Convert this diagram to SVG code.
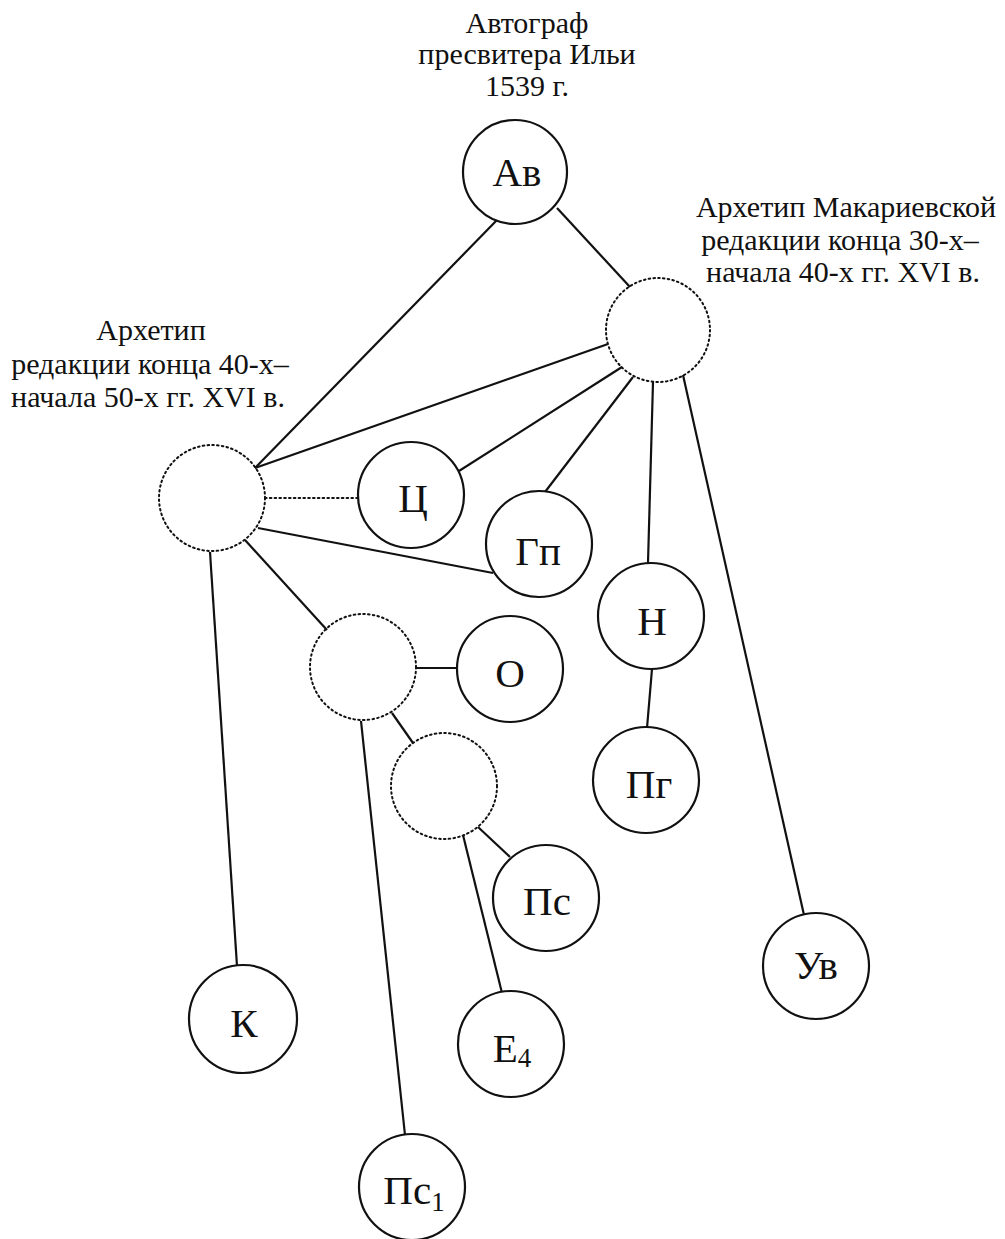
<svg xmlns="http://www.w3.org/2000/svg" width="1005" height="1239" viewBox="0 0 1005 1239">
<style>
.n{fill:#fff;stroke:#111;stroke-width:2.2}
.d{fill:none;stroke:#111;stroke-width:2;stroke-dasharray:1.6 3.2;stroke-linecap:round}
.e{stroke:#111;stroke-width:2.2;fill:none}
.ed{stroke:#111;stroke-width:2;stroke-dasharray:1.6 3.2;stroke-linecap:round}
.t{font-family:"Liberation Serif","Times New Roman",serif;font-size:41px;fill:#111;text-anchor:middle}
.l{font-family:"Liberation Serif","Times New Roman",serif;font-size:30px;fill:#111;text-anchor:middle}
.s{font-size:27px}
</style>
<rect width="1005" height="1239" fill="#fff"/>
<g id="connectors">
<line class="e" x1="557" y1="208" x2="630" y2="287"/>
<line class="e" x1="497" y1="220" x2="255" y2="468"/>
<line class="e" x1="608" y1="344" x2="255" y2="468"/>
<line class="e" x1="622" y1="367" x2="459" y2="471"/>
<line class="e" x1="633" y1="377" x2="545" y2="492"/>
<line class="e" x1="653" y1="382" x2="648" y2="563"/>
<line class="e" x1="683" y1="375" x2="804" y2="915"/>
<line class="ed" x1="265" y1="498" x2="358" y2="498"/>
<line class="e" x1="258" y1="528" x2="493" y2="573"/>
<line class="e" x1="245" y1="540" x2="327" y2="630"/>
<line class="e" x1="210" y1="552" x2="237" y2="966"/>
<line class="e" x1="415" y1="668" x2="457" y2="668"/>
<line class="e" x1="392" y1="713" x2="413" y2="743"/>
<line class="e" x1="361" y1="721" x2="405" y2="1135"/>
<line class="e" x1="478" y1="827" x2="510" y2="857"/>
<line class="e" x1="463" y1="835" x2="502" y2="993"/>
<line class="e" x1="652" y1="669" x2="647" y2="728"/>
</g>
<g id="label-top">
<text class="l" x="527" y="33">Автограф</text>
<text class="l" x="527" y="64">пресвитера Ильи</text>
<text class="l" x="527" y="96">1539 г.</text>
</g>
<g id="label-right">
<text class="l" x="846" y="217">Архетип Макариевской</text>
<text class="l" x="840" y="250">редакции конца 30-х–</text>
<text class="l" x="843" y="282">начала 40-х гг. XVI в.</text>
</g>
<g id="label-left">
<text class="l" x="151" y="340">Архетип</text>
<text class="l" x="150" y="374">редакции конца 40-х–</text>
<text class="l" x="148" y="407">начала 50-х гг. XVI в.</text>
</g>
<g id="node-Av"><circle class="n" cx="515" cy="172" r="52"/><text class="t" x="517" y="186">Ав</text></g>
<g id="node-arch-mak"><circle class="d" cx="658" cy="330" r="52"/></g>
<g id="node-arch-left"><circle class="d" cx="212" cy="498" r="53"/></g>
<g id="node-C"><circle class="n" cx="411" cy="495" r="53"/><text class="t" x="413" y="512">Ц</text></g>
<g id="node-Gp"><circle class="n" cx="539" cy="544" r="53"/><text class="t" x="538" y="565">Гп</text></g>
<g id="node-N"><circle class="n" cx="651" cy="616" r="53"/><text class="t" x="652" y="635">Н</text></g>
<g id="node-mid"><circle class="d" cx="363" cy="667" r="53"/></g>
<g id="node-O"><circle class="n" cx="510" cy="669" r="53"/><text class="t" x="510" y="687">О</text></g>
<g id="node-low"><circle class="d" cx="444" cy="786" r="53"/></g>
<g id="node-Pg"><circle class="n" cx="646" cy="780" r="53"/><text class="t" x="649" y="798">Пг</text></g>
<g id="node-Ps"><circle class="n" cx="546" cy="898" r="53"/><text class="t" x="547" y="915">Пс</text></g>
<g id="node-Uv"><circle class="n" cx="816" cy="966" r="53"/><text class="t" x="816" y="979">Ув</text></g>
<g id="node-K"><circle class="n" cx="243" cy="1019" r="54"/><text class="t" x="244" y="1037">К</text></g>
<g id="node-E4"><circle class="n" cx="511" cy="1044" r="53"/><text class="t" x="512" y="1062">Е<tspan class="s" dy="5">4</tspan></text></g>
<g id="node-Ps1"><circle class="n" cx="412" cy="1187" r="53"/><text class="t" x="414" y="1204">Пс<tspan class="s" dy="7">1</tspan></text></g>
</svg>
